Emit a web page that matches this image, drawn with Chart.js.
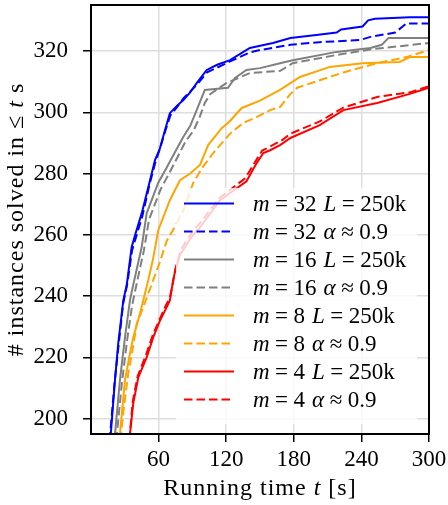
<!DOCTYPE html>
<html>
<head>
<meta charset="utf-8">
<script src="https://cdn.jsdelivr.net/npm/chart.js@4/dist/chart.umd.min.js"></script>
<style>
    html, body { margin: 0; padding: 0; background: #fff; }
    #wrap { width: 448px; height: 505px; position: relative; }
</style>
</head>
<body>
<div id="wrap"><canvas id="chart"></canvas></div>
<script>
// running time (s) and solved-instance counts per configuration
const t32L = [15.5, 17.5, 21.3, 24.2, 28.7, 31.7, 36.1, 40, 45, 52.4, 56.8, 61, 65.7, 70, 76, 82, 88, 93.8, 102.7, 112, 123.4, 141, 161.5, 177, 200, 218, 222, 241, 246, 252, 283, 300];
const n32L = [193, 194.7, 212.7, 224.7, 238.7, 243.6, 256, 261, 267, 277.8, 284.4, 288, 294.2, 299.7, 302, 304, 306.5, 309.5, 313.8, 315.5, 317, 321, 322.6, 324.2, 325.2, 326, 327, 328, 330, 330.5, 331, 331];
const t32a = [15, 17, 21, 24.5, 28.5, 32, 36.5, 45.5, 52, 57, 61.5, 66, 70.5, 76, 82, 94, 103, 123, 141, 150, 177, 200, 239, 248, 270, 280, 300];
const n32a = [193, 195, 212, 224, 237.5, 243.6, 255, 266, 276.5, 283.5, 288.5, 294, 299, 301.5, 304.5, 309, 313, 316.5, 319.5, 320.3, 322, 322.8, 323.6, 324.6, 326, 329, 329];
const t16L = [20, 21.3, 25.7, 30.2, 34.6, 38, 45, 49.4, 59.7, 67.2, 74.6, 82, 88, 93.8, 101, 121.6, 127.8, 138, 150, 167.8, 179, 218, 248, 258, 264, 300];
const n16L = [193, 195, 212.7, 226.7, 238.7, 244.5, 256, 267, 277, 282, 287, 292, 295.5, 300.7, 307.3, 308, 311.2, 313.8, 314.4, 316, 317, 319.7, 321, 322, 324.2, 324.2];
const t16a = [21.5, 23, 27.5, 32, 36.5, 40.5, 47, 51.5, 62, 70, 77, 84, 91, 96, 101, 106, 120, 141, 168, 179, 218, 250, 300];
const n16a = [193, 195, 212, 225.5, 237, 244, 255, 265, 275, 280.5, 285.5, 290.5, 294, 298, 303, 306, 309.5, 312.8, 313.5, 316, 318.7, 320.6, 322.6];
const t8L = [24.5, 25.7, 30.2, 34.6, 37.5, 43.5, 48, 50.9, 55, 59.7, 70, 79, 88, 96.7, 104, 116, 123, 133.8, 150, 167.8, 185.5, 212, 241, 274, 283, 300];
const n8L = [193, 195, 212.7, 221.3, 226.6, 234.4, 241, 245.3, 252, 261.5, 271.3, 277.8, 280, 282.8, 289.3, 294.8, 297, 301.4, 303.8, 307.3, 311.5, 314.8, 316, 316.4, 318, 318];
const t8a = [26, 29, 33.1, 37.3, 40.6, 46.4, 55.3, 61, 67.2, 75, 82, 90.8, 99, 108.5, 123.4, 135, 147, 159, 167.8, 177, 183, 224, 254, 280, 300];
const n8a = [193, 203, 214.9, 223.3, 231, 236.4, 245.3, 251, 258, 263, 268, 277, 282, 286.7, 293, 296.5, 298.4, 300.7, 301.7, 306, 308, 313, 316, 318, 320.3];
const t4L = [34, 34.6, 37.5, 42, 49.4, 55.3, 61.2, 67.2, 70, 73, 74.6, 79, 90.5, 97, 114.5, 138, 147, 153, 159, 167.8, 177, 203, 224, 254, 283, 300];
const n4L = [193, 195, 205, 213.5, 220, 226.6, 232, 236.4, 238.6, 245.3, 248, 253.5, 260, 262.5, 271.3, 277.5, 283.4, 286.7, 287.6, 289.3, 291.6, 295.8, 300.7, 303, 306, 308];
const t4a = [33.5, 34.5, 37, 41.5, 48.5, 55, 61, 66.5, 70, 72.5, 75, 79.5, 90, 97, 114, 137, 146, 152, 160, 170, 177, 203, 224, 254, 283, 300];
const n4a = [193, 195, 205.5, 214, 220.5, 227.5, 232.5, 237, 239.5, 244, 249, 255, 261, 264, 272, 278.5, 284, 287.5, 289, 291, 293, 297, 301.5, 305, 306.5, 308.5];

const xTicks = [60, 120, 180, 240, 300];
const yTicks = [200, 220, 240, 260, 280, 300, 320];

const series = [
    { m: '32', kind: 'L', t: t32L, n: n32L, color: '#0000ff' },
    { m: '32', kind: 'a', t: t32a, n: n32a, color: '#0000ff' },
    { m: '16', kind: 'L', t: t16L, n: n16L, color: '#808080' },
    { m: '16', kind: 'a', t: t16a, n: n16a, color: '#808080' },
    { m: '8', kind: 'L', t: t8L, n: n8L, color: '#ffa500' },
    { m: '8', kind: 'a', t: t8a, n: n8a, color: '#ffa500' },
    { m: '4', kind: 'L', t: t4L, n: n4L, color: '#ff0000' },
    { m: '4', kind: 'a', t: t4a, n: n4a, color: '#ff0000' },
];

const FONT = '"Liberation Serif", "Times New Roman", serif';
const DASH = [8.5, 4];

// draws text made of [string, italic] parts and numeric gaps
function richWidth(ctx, parts, size) {
    let w = 0;
    parts.forEach((p) => {
        if(typeof p === 'number') { w += p; return; }
        ctx.font = (p[1] ? 'italic ' : '') + size + 'px ' + FONT;
        w += ctx.measureText(p[0]).width;
    });
    return w;
}
function drawRich(ctx, parts, x, y, size, align, spacing) {
    ctx.letterSpacing = (spacing || 0) + 'px';
    let cx = align === 'center' ? x - richWidth(ctx, parts, size) / 2 : x;
    ctx.textBaseline = 'middle';
    ctx.textAlign = 'left';
    ctx.fillStyle = '#000';
    parts.forEach((p) => {
        if(typeof p === 'number') { cx += p; return; }
        ctx.font = (p[1] ? 'italic ' : '') + size + 'px ' + FONT;
        ctx.fillText(p[0], cx, y);
        cx += ctx.measureText(p[0]).width;
    });
    ctx.letterSpacing = '0px';
}

function legendParts(s) {
    const g = 5.5;
    const head = [['m', true], g, ['=', false], g, [s.m, false], 7];
    if(s.kind === 'L') {
        return head.concat([['L', true], g, ['=', false], g, ['250k', false]]);
    }
    return head.concat([['α', true], g, ['≈', false], g, ['0.9', false]]);
}

const decorations = {
    id: 'decorations',
    afterDatasetsDraw(chart) {
        const ctx = chart.ctx;
        const area = chart.chartArea;
        ctx.save();
        // legend box
        const lx = 176, ly = 188, lw = 241, lh = 236;
        ctx.fillStyle = 'rgba(255,255,255,0.8)';
        ctx.beginPath();
        ctx.roundRect(lx, ly, lw, lh, 4);
        ctx.fill();
        series.forEach((s, i) => {
            const y = 203.5 + i * 28;
            ctx.strokeStyle = s.color;
            ctx.lineWidth = 2;
            ctx.setLineDash(s.kind === 'a' ? DASH : []);
            ctx.beginPath();
            ctx.moveTo(184, y);
            ctx.lineTo(234, y);
            ctx.stroke();
            drawRich(ctx, legendParts(s), 253, y + 1, 23, 'left');
        });
        ctx.setLineDash([]);
        // frame
        ctx.strokeStyle = '#000';
        ctx.lineWidth = 2;
        ctx.strokeRect(area.left, area.top, area.right - area.left, area.bottom - area.top);
        // axis titles
        drawRich(ctx, [['Running time ', false], ['t', true], [' [s]', false]],
            (area.left + area.right) / 2, 489, 24, 'center', 1);
        ctx.translate(17, (area.top + area.bottom) / 2);
        ctx.rotate(-Math.PI / 2);
        drawRich(ctx, [['# instances solved in ≤ ', false], ['t', true], [' s', false]], 0, 0, 24, 'center', 1);
        ctx.restore();
    }
};

const datasets = series.map((s, i) => ({
    label: 'm=' + s.m + (s.kind === 'L' ? ' L=250k' : ' α≈0.9'),
    data: s.t.map((t, k) => ({ x: t, y: s.n[k] })),
    borderColor: s.color,
    backgroundColor: s.color,
    borderWidth: 2,
    borderDash: s.kind === 'a' ? DASH : [],
    pointRadius: 0,
    tension: 0,
    fill: false,
    order: -i,
}));

new Chart(document.getElementById('chart').getContext('2d'), {
    type: 'line',
    data: { datasets: datasets },
    options: {
        responsive: true,
        maintainAspectRatio: false,
        animation: false,
        devicePixelRatio: 1,
        layout: { padding: { top: 5, right: 19, left: 0, bottom: 0 } },
        plugins: {
            legend: { display: false },
            tooltip: { enabled: false },
        },
        scales: {
            x: {
                type: 'linear',
                min: 0,
                max: 300,
                afterBuildTicks: (scale) => { scale.ticks = xTicks.map((v) => ({ value: v })); },
                afterFit: (scale) => {
                    scale.height = 71;
                    scale.paddingLeft = 0;
                    scale.paddingRight = 0;
                },
                grid: { color: '#dedede', lineWidth: 1.5, tickColor: '#000', tickLength: 8, tickWidth: 1.5 },
                border: { display: false },
                ticks: { color: '#000', font: { family: FONT, size: 23 }, padding: 4, maxRotation: 0 },
            },
            y: {
                min: 195,
                max: 335,
                afterBuildTicks: (scale) => { scale.ticks = yTicks.map((v) => ({ value: v })); },
                afterFit: (scale) => {
                    scale.width = 91;
                    scale.paddingTop = 0;
                    scale.paddingBottom = 0;
                },
                grid: { color: '#dedede', lineWidth: 1.5, tickColor: '#000', tickLength: 8, tickWidth: 1.5 },
                border: { display: false },
                ticks: { color: '#000', font: { family: FONT, size: 23 }, padding: 15 },
            },
        },
    },
    plugins: [decorations],
});
</script>
</body>
</html>
